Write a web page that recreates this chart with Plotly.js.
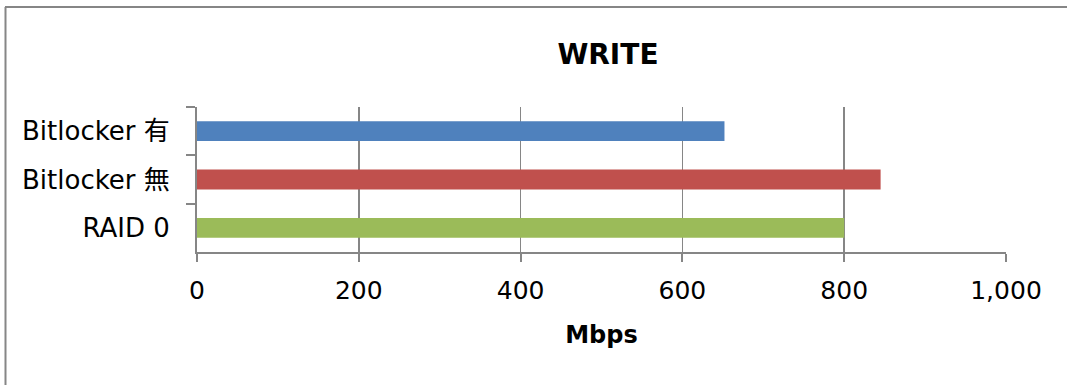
<!DOCTYPE html>
<html>
<head>
<meta charset="utf-8">
<script src="https://cdn.plot.ly/plotly-3.0.1.min.js"></script>
<style>
  html, body { margin: 0; padding: 0; background: #fff; }
  #chart { width: 1067px; height: 385px; }
</style>
</head>
<body>
<div id="chart"></div>
<script>
// Data (top-to-bottom display order)
const categories = ['Bitlocker 有', 'Bitlocker 無', 'RAID 0'];
const writeMbps = [652, 845, 800];
const barColors = ['#4F81BD', '#C0504D', '#9BBB59'];
const xTickValues = [0, 200, 400, 600, 800, 1000];
const chartTitle = 'WRITE';
const xAxisTitle = 'Mbps';

const FONT = 'DejaVu Sans, Verdana, "Noto Sans CJK JP", sans-serif';
const GRAY = '#868686';

const trace = {
  type: 'bar',
  orientation: 'h',
  x: writeMbps,
  y: categories,
  marker: { color: barColors, line: { width: 0 } },
  width: 0.41,
  hoverinfo: 'x+y'
};

const layout = {
  width: 1067,
  height: 385,
  margin: { l: 197, r: 61, t: 107, b: 133, pad: 0 },
  paper_bgcolor: '#ffffff',
  plot_bgcolor: '#ffffff',
  showlegend: false,
  font: { family: FONT, size: 25, color: '#000000' },
  title: {
    text: '<b>' + chartTitle + '</b>',
    font: { family: FONT, size: 28, color: '#000000' },
    x: 0.508, xref: 'paper', xanchor: 'center',
    y: 0.860, yref: 'container', yanchor: 'middle'
  },
  xaxis: {
    range: [0, 1000],
    tickvals: xTickValues,
    tickformat: ',d',
    showgrid: true,
    gridcolor: GRAY,
    gridwidth: 1.5,
    zeroline: false,
    showline: true,
    linecolor: GRAY,
    linewidth: 2,
    ticks: 'outside',
    ticklen: 8,
    tickwidth: 2,
    tickcolor: GRAY,
    tickfont: { family: FONT, size: 25, color: '#000000' },
    ticklabelstandoff: 7,
    automargin: false,
    fixedrange: true,
    title: {
      text: '<b>' + xAxisTitle + '</b>',
      font: { family: FONT, size: 24, color: '#000000' },
      standoff: 22
    }
  },
  yaxis: {
    type: 'category',
    categoryorder: 'array',
    categoryarray: categories,
    autorange: 'reversed',
    showgrid: false,
    zeroline: false,
    showline: true,
    linecolor: GRAY,
    linewidth: 2,
    ticks: 'outside',
    tickson: 'boundaries',
    ticklen: 9,
    tickwidth: 2,
    tickcolor: GRAY,
    tickfont: { family: FONT, size: 26, color: '#000000' },
    ticklabelstandoff: 20,
    automargin: false,
    fixedrange: true
  },
  shapes: [
    // chart-area border (top and left edges)
    { type: 'line', xref: 'paper', yref: 'paper',
      x0: (5 - 197) / 809, x1: (1075 - 197) / 809,
      y0: (252 - 7) / 145, y1: (252 - 7) / 145,
      line: { color: GRAY, width: 2 } },
    { type: 'line', xref: 'paper', yref: 'paper',
      x0: (5.5 - 197) / 809, x1: (5.5 - 197) / 809,
      y0: (252 - 7) / 145, y1: (252 - 395) / 145,
      line: { color: GRAY, width: 2 } }
  ]
};

Plotly.newPlot('chart', [trace], layout, { displayModeBar: false, staticPlot: true });
</script>
</body>
</html>
